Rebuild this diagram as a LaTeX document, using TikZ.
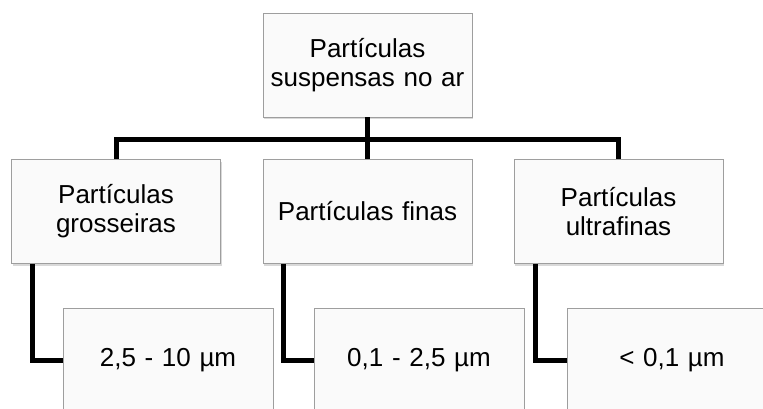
\documentclass[tikz,border=0pt]{standalone}
\usepackage{fontspec}
\setmainfont{Liberation Sans}
\usetikzlibrary{shadows,calc}
\begin{document}
\begin{tikzpicture}[x=1pt,y=-1pt,
  box/.style={draw=black!38, line width=0.9pt, fill=white!98!black,
    minimum width=209pt, minimum height=104pt, inner sep=2pt,
    text width=200pt, align=center,
    font=\fontsize{26}{29}\selectfont,
    drop shadow={shadow xshift=1.2pt, shadow yshift=-2.2pt, opacity=0.25, fill=black!60}},
  conn/.style={line width=5pt, draw=black}]
\useasboundingbox (0,0) rectangle (763,409);
\clip (0,0) rectangle (763,409);
\node[box] (top) at (367.5,65) {Partículas\\suspensas no ar};
\node[box] (g) at (116,211.5) {Partículas\\grosseiras};
\node[box] (f) at (367.5,211.5) {Partículas finas};
\node[box] (u) at (618.5,211.5) {Partículas\\ultrafinas};
\node[box, minimum width=210pt, minimum height=105pt] (gb) at (168,360.5) {2,5 - 10 µm};
\node[box, minimum width=210pt, minimum height=105pt] (fb) at (419,360.5) {0,1 - 2,5 µm};
\node[box, minimum width=210pt, minimum height=105pt] (ub) at (672,360.5) {< 0,1 µm};
\coordinate (bar) at (367.5,140);
\draw[conn] (g.north) |- (bar) -| (u.north);
\draw[conn] (top.south) -- (f.north);
\draw[conn] ([xshift=21pt]g.south west) |- (gb.west);
\draw[conn] ([xshift=21pt]f.south west) |- (fb.west);
\draw[conn] ([xshift=22pt]u.south west) |- (ub.west);
\end{tikzpicture}
\end{document}
